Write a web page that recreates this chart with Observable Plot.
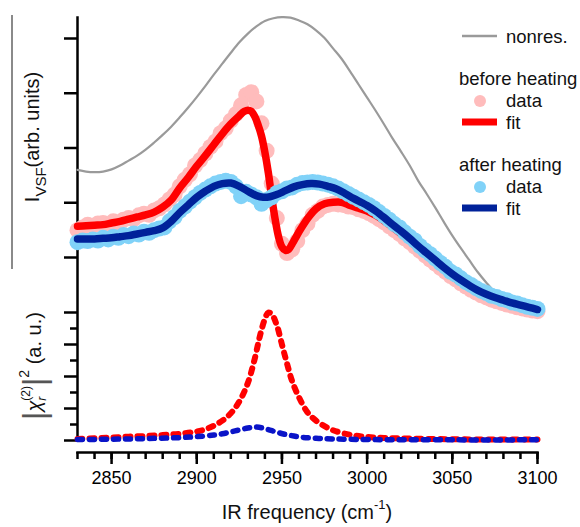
<!DOCTYPE html>
<html>
<head>
<meta charset="utf-8">
<script src="https://cdn.jsdelivr.net/npm/d3@7"></script>
<script src="https://cdn.jsdelivr.net/npm/@observablehq/plot@0.6"></script>
<style>
  body { margin: 0; background: #fff; }
  #chart { position: relative; width: 580px; height: 527px; }
  #chart svg { position: absolute; left: 0; top: 0; background: transparent !important; overflow: visible;
    font-family: "Liberation Sans", Arial, sans-serif !important; }
</style>
</head>
<body>
<div id="chart"></div>
<script>
// ---------------- data ----------------
const xDomain = [2830, 3100];
const xMajorTicks = [2850, 2900, 2950, 3000, 3050, 3100];
const xMinorTicks = [2830, 2840, 2850, 2860, 2870, 2880, 2890, 2900, 2910, 2920, 2930, 2940, 2950,
  2960, 2970, 2980, 2990, 3000, 3010, 3020, 3030, 3040, 3050, 3060, 3070, 3080, 3090, 3100];
const upperTicks = [0, 1, 2, 3, 4];
const lowerMajorTicks = [0, 1, 2, 3, 4];
const lowerMinorTicks = [0.5, 1.5, 2.5, 3.5];

// measured data grid (cm^-1)
const dataFreq = [2830,2833,2836,2839,2842,2845,2848,2851,2854,2857,
  2860,2863,2866,2869,2872,2875,2878,2881,2884,2887,
  2890,2893,2896,2899,2902,2905,2908,2911,2914,2917,
  2920,2923,2926,2929,2932,2935,2938,2941,2944,2947,
  2950,2953,2956,2959,2962,2965,2968,2971,2974,2977,
  2980,2983,2986,2989,2992,2995,2998,3001,3004,3007,
  3010,3013,3016,3019,3022,3025,3028,3031,3034,3037,
  3040,3043,3046,3049,3052,3055,3058,3061,3064,3067,
  3070,3073,3076,3079,3082,3085,3088,3091,3094,3097,
  3100];
const beforeData = [.50,.55,.60,.58,.62,.63,.60,.66,.64,.69,
  .72,.70,.77,.80,.78,.86,.90,.97,1.06,1.15,
  1.30,1.42,1.52,1.68,1.78,1.90,2.02,2.12,2.27,2.36,
  2.50,2.62,2.78,2.97,3.02,2.85,2.45,1.95,1.35,.72,
  .25,.08,.15,.30,.50,.62,.78,.85,.93,.96,
  .98,.97,.96,.93,.92,.88,.85,.81,.76,.70,
  .64,.57,.50,.43,.35,.28,.20,.12,.04,-.04,
  -.11,-.19,-.26,-.34,-.40,-.47,-.53,-.59,-.64,-.69,
  -.73,-.77,-.80,-.83,-.86,-.88,-.91,-.93,-.95,-.97,
  -.98];
const afterData = [.28,.31,.30,.33,.31,.36,.33,.38,.36,.41,
  .39,.44,.42,.47,.45,.50,.53,.55,.66,.74,
  .85,.93,1.02,1.10,1.18,1.24,1.30,1.35,1.38,1.40,
  1.38,1.30,1.12,1.20,1.15,1.10,.98,1.05,1.10,1.18,
  1.21,1.26,1.28,1.33,1.36,1.37,1.38,1.37,1.35,1.33,
  1.30,1.26,1.21,1.16,1.11,1.06,1.01,.96,.90,.83,
  .76,.69,.61,.55,.46,.38,.31,.21,.13,.06,
  -.02,-.10,-.17,-.26,-.31,-.38,-.45,-.50,-.56,-.61,
  -.65,-.70,-.72,-.76,-.78,-.82,-.84,-.87,-.90,-.92,
  -.94];

const beforeFitFreq = [2830,2835,2840,2845,2850,2855,2860,2865,2870,2875,2880,2885,2890,2895,2900,2905,2910,2915,2920,2925,
  2928,2930,2932,2934,2936,2938,2940,2942,2944,2946,2948,2950,2952,2954,2956,2958,2960,
  2963,2966,2970,
  2975,2980,2985,2990,2995,3000,3005,3010,3015,3020,3025,3030,3035,3040,3045,3050,3055,3060,3065,3070,3075,3080,3085,3090,3095,3100];
const beforeFitVal = [.57,.58,.59,.60,.63,.66,.70,.74,.78,.83,.92,1.05,1.27,1.46,1.67,1.86,2.06,2.26,2.44,2.59,
  2.67,2.69,2.67,2.58,2.42,2.22,1.92,1.55,1.10,.70,.38,.19,.13,.15,.25,.36,.47,
  .62,.75,.89,
  .98,1.01,1.01,.95,.90,.85,.77,.67,.55,.43,.31,.17,.04,-.09,-.22,-.34,-.45,-.55,-.64,-.71,-.77,-.82,-.87,-.91,-.94,-.97];

const afterFitFreq = [2830,2835,2840,2845,2850,2855,2860,2865,2870,2875,2880,2885,2890,2895,2900,2905,2910,2915,2920,2925,2930,2935,
  2939,2943,2947,
  2952,2957,2962,2967,2972,2977,2982,2987,2992,2997,
  3000,3005,3010,3015,3020,3025,3030,3035,3040,3045,3050,3055,3060,3065,3070,3075,3080,3085,3090,3095,3100];
const afterFitVal = [.34,.34,.34,.35,.36,.38,.40,.43,.46,.49,.54,.66,.82,.96,1.10,1.21,1.30,1.35,1.36,1.30,1.21,1.13,
  1.10,1.11,1.15,
  1.22,1.29,1.33,1.35,1.34,1.30,1.25,1.17,1.08,1.00,
  .95,.85,.73,.60,.48,.35,.21,.08,-.05,-.18,-.30,-.41,-.51,-.60,-.67,-.73,-.78,-.83,-.87,-.91,-.95];

const nonresFreq = [2830,2835,2840,2845,2850,2855,2860,2865,2870,2875,2880,2885,2890,2895,2900,2905,2910,2915,2920,2925,
  2930,2935,2940,2945,2950,2955,2960,2965,2970,2975,2980,2985,2990,2995,
  3000,3005,3010,3015,3020,3025,3030,3035,3040,3045,3050,3055,3060,3065,3070,3075,3080,3085,3090,3095,3100];
const nonresVal = [1.60,1.57,1.56,1.57,1.61,1.68,1.77,1.86,1.97,2.10,2.24,2.39,2.56,2.74,2.93,3.13,3.34,3.54,3.74,3.93,
  4.09,4.22,4.32,4.37,4.39,4.38,4.33,4.26,4.15,4.01,3.82,3.63,3.40,3.16,
  2.92,2.68,2.43,2.17,1.93,1.68,1.40,1.16,.91,.65,.40,.17,-.05,-.27,-.46,-.63,-.75,-.84,-.89,-.93,-.95];

const chiBeforeFreq = [2830,2840,2850,2860,2870,2880,2890,2900,2905,2910,2915,2920,2925,2930,
  2934,2937,2940,2942,2944,2947,2950,2953,2956,2960,2965,2970,2975,2980,2990,3000,3010,3025,3050,3075,3100];
const chiBeforeVal = [.05,.07,.09,.12,.14,.17,.21,.28,.35,.46,.62,.85,1.22,1.80,
  2.55,3.25,3.80,4.00,3.95,3.60,3.00,2.40,1.85,1.35,.88,.62,.45,.32,.18,.11,.08,.06,.04,.03,.03];
const chiAfterFreq = [2830,2850,2870,2890,2900,2910,2915,2920,2925,2930,2934,2938,2942,2947,2952,2957,2962,2970,2980,3000,3050,3100];
const chiAfterVal = [.03,.04,.06,.09,.12,.17,.21,.27,.33,.39,.42,.40,.34,.26,.19,.14,.10,.07,.05,.03,.02,.02];

const legendNonres = "nonres.";
const legendGroups = ["before heating", "after heating"];
const legendEntries = ["data", "fit"];

// ---------------- styling ----------------
const W = 580, H = 527;
const FONT = "'Liberation Sans', Arial, sans-serif";
const C = {
  gray: "#9a9a9a", pink: "#ffbcbc", red: "#ff0000", light: "#80d2f8", dark: "#00229a",
  chiRed: "#ff0000", chiBlue: "#0a14c8"
};
const rows = (fs, vs) => fs.map((f, i) => ({f, v: vs[i]}));

const upper = Plot.plot({
  width: W, height: H,
  marginLeft: 77, marginRight: 43, marginTop: 17, marginBottom: 87,
  x: {domain: xDomain, axis: null, label: null},
  y: {domain: [0, 4], range: [257, 38], axis: null, label: null},
  marks: [
    Plot.frame({anchor: "left", stroke: "black", strokeWidth: 2.5}),
    Plot.axisY(upperTicks, {tickSize: 13, tickFormat: () => "", strokeWidth: 2.5, label: null}),
    Plot.line(rows(nonresFreq, nonresVal), {x: "f", y: "v", stroke: C.gray, strokeWidth: 2.2, curve: "catmull-rom"}),
    Plot.dot(rows(dataFreq, beforeData), {x: "f", y: "v", r: 8, fill: C.pink}),
    Plot.line(rows(beforeFitFreq, beforeFitVal), {x: "f", y: "v", stroke: C.red, strokeWidth: 7.5, curve: "catmull-rom"}),
    Plot.dot(rows(dataFreq, afterData), {x: "f", y: "v", r: 8, fill: C.light}),
    Plot.line(rows(afterFitFreq, afterFitVal), {x: "f", y: "v", stroke: C.dark, strokeWidth: 7.5, curve: "catmull-rom"})
  ]
});

const lower = Plot.plot({
  width: W, height: H,
  marginLeft: 77, marginRight: 43, marginTop: 280, marginBottom: 75,
  x: {domain: xDomain, label: null},
  y: {domain: [0, 4], range: [440, 312], label: null},
  marks: [
    Plot.frame({anchor: "bottom", stroke: "black", strokeWidth: 2.5}),
    Plot.axisX(xMinorTicks, {tickSize: 7, tickFormat: () => "", strokeWidth: 2.5, label: null}),
    Plot.axisX(xMajorTicks, {tickSize: 12, tickPadding: 7, fontSize: 18, strokeWidth: 2.5, label: null, tickFormat: d => String(d)}),
    Plot.axisY(lowerMajorTicks, {tickSize: 13, tickFormat: () => "", strokeWidth: 2.5, label: null}),
    Plot.axisY(lowerMinorTicks, {tickSize: 7, tickFormat: () => "", strokeWidth: 2.5, label: null}),
    Plot.line(rows(chiBeforeFreq, chiBeforeVal), {x: "f", y: "v", stroke: C.chiRed, strokeWidth: 6, strokeDasharray: "5,7", curve: "catmull-rom"}),
    Plot.line(rows(chiAfterFreq, chiAfterVal), {x: "f", y: "v", stroke: C.chiBlue, strokeWidth: 5.5, strokeDasharray: "5,7", curve: "catmull-rom"})
  ]
});

const chart = document.getElementById("chart");
chart.append(upper);
chart.append(lower);

// ---------------- labels & legend ----------------
const ov = d3.create("svg").attr("width", W).attr("height", H)
  .attr("font-family", FONT).attr("fill", "#111");

ov.append("line").attr("x1", 12).attr("x2", 12).attr("y1", 15).attr("y2", 269)
  .attr("stroke", "#8a8a8a").attr("stroke-width", 2);

const t1 = ov.append("text").attr("transform", "translate(39,137) rotate(-90)")
  .attr("text-anchor", "middle").attr("font-size", 20);
t1.append("tspan").text("I");
t1.append("tspan").attr("font-size", 15).attr("dy", 7).text("VSF");
t1.append("tspan").attr("dy", -7).text("(arb. units)");

const t2 = ov.append("text").attr("transform", "translate(41,366) rotate(-90)")
  .attr("text-anchor", "middle").attr("font-size", 20);
t2.append("tspan").attr("font-size", 32).attr("fill", "#555").attr("dy", 4).text("|");
t2.append("tspan").attr("font-style", "italic").attr("dy", -4).text("χ");
t2.append("tspan").attr("font-size", 12).attr("font-style", "italic").attr("dy", 5).text("r");
t2.append("tspan").attr("font-size", 12).attr("dx", -4).attr("dy", -16).text("(2)");
t2.append("tspan").attr("font-size", 32).attr("fill", "#555").attr("dy", 15).text("|");
t2.append("tspan").attr("font-size", 14).attr("dy", -16).text("2");
t2.append("tspan").attr("dy", 12).text(" (a. u.)");

const t3 = ov.append("text").attr("x", 307).attr("y", 519)
  .attr("text-anchor", "middle").attr("font-size", 20);
t3.append("tspan").text("IR frequency (cm");
t3.append("tspan").attr("font-size", 13).attr("dy", -10).text("-1");
t3.append("tspan").attr("dy", 10).text(")");

// legend
const lg = ov.append("g").attr("font-size", 18.5);
lg.append("line").attr("x1", 462).attr("x2", 497).attr("y1", 36).attr("y2", 36)
  .attr("stroke", C.gray).attr("stroke-width", 2.5);
lg.append("text").attr("x", 506).attr("y", 43).text(legendNonres);
const groupY = [85, 171];
const dotColors = [C.pink, C.light];
const lineColors = [C.red, C.dark];
legendGroups.forEach((g, i) => {
  const y0 = groupY[i];
  lg.append("text").attr("x", 459).attr("y", y0).text(g);
  lg.append("circle").attr("cx", 480).attr("cy", y0 + 16).attr("r", 6).attr("fill", dotColors[i]);
  lg.append("text").attr("x", 506).attr("y", y0 + 22).text(legendEntries[0]);
  lg.append("line").attr("x1", 462).attr("x2", 497).attr("y1", y0 + 37).attr("y2", y0 + 37)
    .attr("stroke", lineColors[i]).attr("stroke-width", 7);
  lg.append("text").attr("x", 506).attr("y", y0 + 44).text(legendEntries[1]);
});

chart.append(ov.node());
</script>
</body>
</html>
